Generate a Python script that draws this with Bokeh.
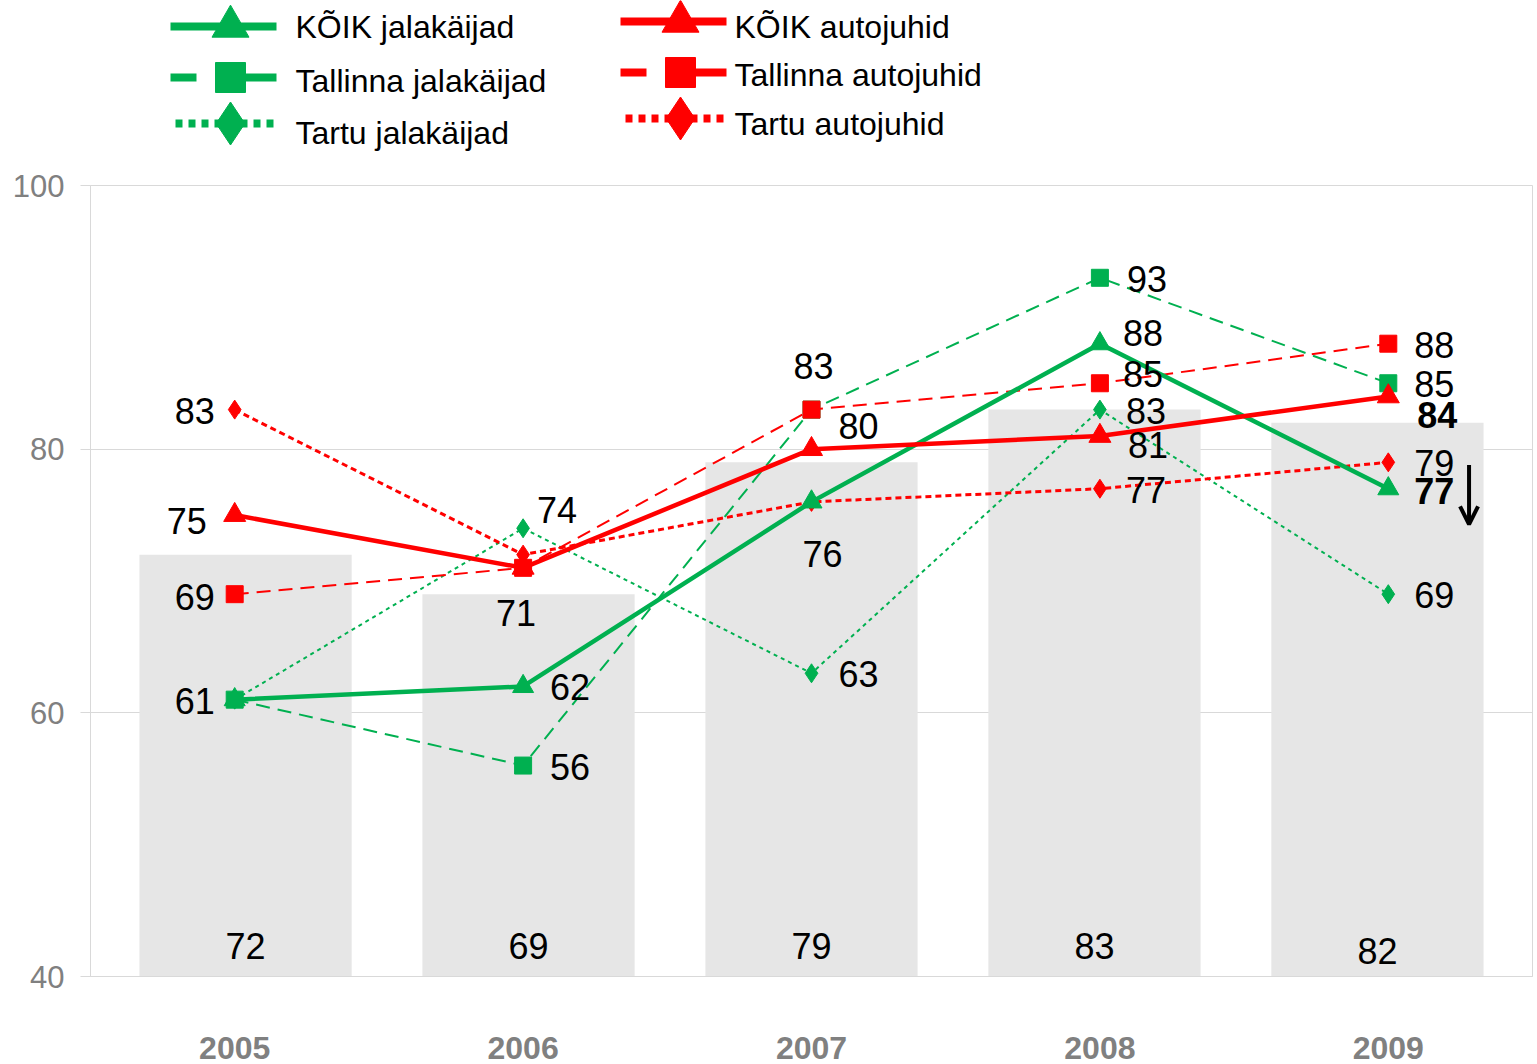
from bokeh.plotting import figure
from bokeh.models import ColumnDataSource, Range1d, FixedTicker, Arrow, OpenHead
from bokeh.layouts import column
from bokeh.embed import file_html
from bokeh.resources import INLINE
from bokeh.core.properties import value

FONT = "Liberation Sans"
GREEN = "#00b050"
RED = "#ff0000"

# ---------------- data ----------------
years = [2005, 2006, 2007, 2008, 2009]
bar_values = [72, 69, 79, 83, 82]

koik_jalakaijad = [61, 62, 76, 88, 77]
tallinna_jalakaijad = [61, 56, 83, 93, 85]
tartu_jalakaijad = [61, 74, 63, 83, 69]
koik_autojuhid = [75, 71, 80, 81, 84]
tallinna_autojuhid = [69, 71, 83, 85, 88]
tartu_autojuhid = [83, 72, 76, 77, 79]

# which points carry a value label
show_koik_jala = [1, 1, 1, 1, 1]
show_tallinna_jala = [0, 1, 1, 1, 1]
show_tartu_jala = [0, 1, 1, 1, 1]
show_koik_auto = [1, 1, 1, 1, 1]
show_tallinna_auto = [1, 0, 0, 1, 1]
show_tartu_auto = [1, 0, 0, 1, 1]

# label placement (screen px offsets, style only)
dx_koik_jala = [-40, 47, 11, 43, 46]
dy_koik_jala = [1, 1, 52, -11, 2]
dx_tallinna_jala = [0, 47, 2, 47, 46]
dy_tallinna_jala = [0, 1, -44, 1, 1]
dx_tartu_jala = [0, 34, 47, 46, 46]
dy_tartu_jala = [0, -18, 1, 1, 1]
dx_koik_auto = [-48, -7, 47, 48, 49]
dy_koik_auto = [6, 45, -23, 9, 19]
dx_tallinna_auto = [-40, 0, 0, 43, 46]
dy_tallinna_auto = [3, 0, 0, -9, 1]
dx_tartu_auto = [-40, 0, 0, 46, 46]
dy_tartu_auto = [1, 0, 0, 1, 1]
bold_koik_jala = [0, 0, 0, 0, 1]
bold_koik_auto = [0, 0, 0, 0, 1]
bold_none = [0, 0, 0, 0, 0]

series = [
    # name, values, show, dx, dy, bold, color, dash, width, marker, msize
    ("Tallinna jalakäijad", tallinna_jalakaijad, show_tallinna_jala, dx_tallinna_jala, dy_tallinna_jala, bold_none, GREEN, "14 8", 2, "square", 17),
    ("Tartu jalakäijad", tartu_jalakaijad, show_tartu_jala, dx_tartu_jala, dy_tartu_jala, bold_none, GREEN, "4 4", 2, "diamond", 19),
    ("Tallinna autojuhid", tallinna_autojuhid, show_tallinna_auto, dx_tallinna_auto, dy_tallinna_auto, bold_none, RED, "14 8", 2, "square", 17),
    ("Tartu autojuhid", tartu_autojuhid, show_tartu_auto, dx_tartu_auto, dy_tartu_auto, bold_none, RED, "6 4", 3, "diamond", 19),
    ("KÕIK jalakäijad", koik_jalakaijad, show_koik_jala, dx_koik_jala, dy_koik_jala, bold_koik_jala, GREEN, "solid", 4.5, "triangle", 21),
    ("KÕIK autojuhid", koik_autojuhid, show_koik_auto, dx_koik_auto, dy_koik_auto, bold_koik_auto, RED, "solid", 4.5, "triangle", 22),
]

# ---------------- legend figure ----------------
legend_col1 = ["KÕIK jalakäijad", "Tallinna jalakäijad", "Tartu jalakäijad"]
legend_col2 = ["KÕIK autojuhid", "Tallinna autojuhid", "Tartu autojuhid"]

LW, LH = 1537, 158
FL, FR = 90, 5  # frame borders shared with the chart below
lg = figure(width=LW, height=LH, x_range=Range1d(FL, LW - FR), y_range=Range1d(LH, 0),
            x_axis_type=None, y_axis_type=None,
            output_backend="svg", toolbar_location=None,
            min_border_left=FL, min_border_right=FR, min_border_top=0, min_border_bottom=0)
lg.grid.visible = False
lg.outline_line_color = None

legend_glyph_y = [[26, 77, 123], [21, 72, 118]]
legend_text_y = [[26, 80, 132], [26, 74, 123]]
legend_line_x = [(170, 276), (620, 726)]
legend_text_x = [295, 734]
styles = {
    "KÕIK": ("solid", 0, "triangle", 37),
    "Tallinna": ("26 19 80 19", 0, "square", 30),
    "Tartu": ("7 6", 5, "diamond", 43),
}
for ci, (names, color) in enumerate([(legend_col1, GREEN), (legend_col2, RED)]):
    x0, x1 = legend_line_x[ci]
    for ri, name in enumerate(names):
        gy = legend_glyph_y[ci][ri]
        dash, start_pad, marker, msize = styles[name.split()[0]]
        lg.line([x0 + start_pad, x1], [gy, gy], line_color=color, line_width=8, line_dash=dash)
        lg.scatter([(x0 + x1) / 2 + 7], [gy], marker=marker, size=msize,
                   fill_color=color, line_color=color)
        lg.text([legend_text_x[ci]], [legend_text_y[ci][ri]], text=[name], text_font=value(FONT),
                text_font_size="32px", text_color="#000000",
                text_align="left", text_baseline="middle")

# ---------------- main figure ----------------
p = figure(width=1537, height=906, x_range=Range1d(2004.5, 2009.5), y_range=Range1d(40, 100),
           output_backend="svg", toolbar_location=None,
           min_border_left=FL, min_border_right=FR, min_border_top=27, min_border_bottom=88)
p.extra_x_ranges = {"bars": Range1d(2004.452, 2009.548)}
p.outline_line_color = "#d9d9d9"
p.xgrid.visible = False
p.ygrid.grid_line_color = "#d9d9d9"
p.ygrid.ticker = FixedTicker(ticks=[40, 60, 80, 100])

p.xaxis.ticker = FixedTicker(ticks=years)
p.xaxis.major_tick_line_color = None
p.xaxis.minor_tick_line_color = None
p.xaxis.axis_line_color = "#d9d9d9"
p.xaxis.major_label_text_font = FONT
p.xaxis.major_label_text_font_style = "bold"
p.xaxis.major_label_text_font_size = "32px"
p.xaxis.major_label_text_color = "#808080"
p.xaxis.major_label_standoff = 54

p.yaxis.ticker = FixedTicker(ticks=[40, 60, 80, 100])
p.yaxis.major_tick_out = 10
p.yaxis.major_tick_in = 0
p.yaxis.major_tick_line_color = "#d9d9d9"
p.yaxis.minor_tick_line_color = None
p.yaxis.axis_line_color = "#d9d9d9"
p.yaxis.major_label_text_font = FONT
p.yaxis.major_label_text_font_size = "31px"
p.yaxis.major_label_text_color = "#808080"
p.yaxis.major_label_standoff = 16

# bars
bar_src = ColumnDataSource(dict(x=years, top=bar_values, lbl=[str(v) for v in bar_values],
                                yoff=[-31, -31, -31, -31, -26]))
p.vbar(x="x", top="top", bottom=40, width=0.75, source=bar_src, x_range_name="bars",
       fill_color="#e6e6e6", line_color=None)
p.text(x="x", y=40, text="lbl", source=bar_src, x_range_name="bars", y_offset="yoff",
       text_font=value(FONT), text_font_size="36px", text_color="#000000",
       text_align="center", text_baseline="middle")

# lines + markers
for name, vals, show, dx, dy, bold, color, dash, width, marker, msize in series:
    src = ColumnDataSource(dict(x=years, y=vals))
    p.line("x", "y", source=src, line_color=color, line_width=width, line_dash=dash)
    p.scatter("x", "y", source=src, marker=marker, size=msize, fill_color=color, line_color=color)

# value labels
for name, vals, show, dx, dy, bold, color, dash, width, marker, msize in series:
    for style in (0, 1):
        idx = [i for i in range(len(vals)) if show[i] and bold[i] == style]
        if not idx:
            continue
        src = ColumnDataSource(dict(
            x=[years[i] for i in idx], y=[vals[i] for i in idx],
            t=[str(vals[i]) for i in idx], dx=[dx[i] for i in idx], dy=[dy[i] for i in idx]))
        p.text(x="x", y="y", text="t", source=src, x_offset="dx", y_offset="dy",
               text_font=value(FONT), text_font_size="36px", text_color="#000000",
               text_font_style="bold" if style else "normal",
               text_align="center", text_baseline="middle")

# downward arrow beside the 2009 labels
p.add_layout(Arrow(end=OpenHead(size=18, line_width=4, line_color="#000000"),
                   x_start=years[-1] + 0.28, y_start=78.8,
                   x_end=years[-1] + 0.28, y_end=74.3,
                   line_width=4, line_color="#000000"))

layout = column(lg, p, spacing=0)
open("out.html", "w").write(file_html(layout, INLINE))
